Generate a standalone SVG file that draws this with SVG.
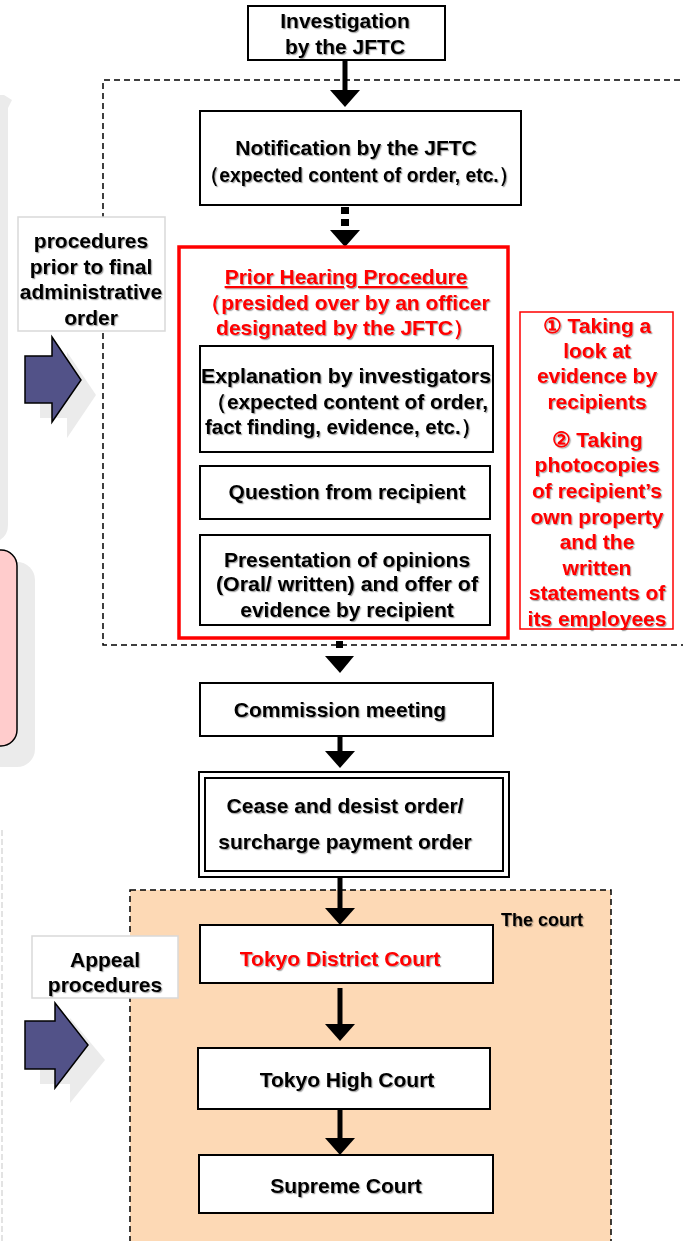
<svg xmlns="http://www.w3.org/2000/svg" width="683" height="1241" viewBox="0 0 683 1241">
<defs>
<filter id="ts" x="-10%" y="-30%" width="120%" height="160%">
<feDropShadow dx="1.2" dy="1.2" stdDeviation="0.6" flood-color="#000" flood-opacity="0.35"/>
</filter>
<marker id="ah" markerWidth="18" markerHeight="30" viewBox="0 0 18 30" refX="0" refY="15" orient="auto" markerUnits="userSpaceOnUse">
<path d="M0,0 L17,15 L0,30 Z" fill="#000"/>
</marker>
</defs>
<style>
text{font-family:"Liberation Sans",Arial,sans-serif;font-weight:bold;font-size:21px;text-anchor:middle;fill:#000}
.r{fill:#ff0000}
.box{fill:#fff;stroke:#000;stroke-width:2}
.lab{fill:#fff;stroke:#d9d9d9;stroke-width:1.5}
.dash{fill:none;stroke:#000;stroke-width:1.5;stroke-dasharray:6,4}
.barrow{fill:#525288;stroke:#000;stroke-width:1.5}
.sh{fill:#ebebeb}
.conn{stroke:#000;stroke-width:5;fill:none}
</style>

<!-- faint background left shapes -->
<g id="bg-left">
<path class="sh" d="M-20,95 L4,95 L12,100 L8,108 L8,525 Q8,535 0,540 L-20,540 Z"/>
<rect class="sh" x="-40" y="562" width="75" height="205" rx="18"/>
<rect x="-40" y="550" width="57" height="196" rx="16" fill="#ffcccc" stroke="#000" stroke-width="1.5"/>
<line x1="2" y1="830" x2="2" y2="1241" stroke="#e3e3e3" stroke-width="2" stroke-dasharray="6,3"/>
</g>

<!-- dashed group containers -->
<g id="prior-area">
<path class="dash" d="M690,80 L103,80 L103,645 L690,645"/>
</g>
<g id="court-area">
<rect x="130" y="890" width="481" height="360" fill="#fdd9b5" stroke="#000" stroke-width="1.5" stroke-dasharray="6,4"/>
<text x="542" y="926" style="font-size:18px" filter="url(#ts)">The court</text>
</g>

<!-- side labels and block arrows -->
<g id="label-prior">
<rect class="lab" x="18" y="217" width="147" height="114"/>
<text x="91" y="248" filter="url(#ts)">procedures</text>
<text x="91" y="274" filter="url(#ts)">prior to final</text>
<text x="91" y="299" filter="url(#ts)">administrative</text>
<text x="91" y="325" filter="url(#ts)">order</text>
</g>
<g id="arrow-prior">
<path class="sh" d="M40,371 L67,371 L67,352 L96,395 L67,438 L67,418 L40,418 Z"/>
<path class="barrow" d="M25,356 L52,356 L52,337 L81,380 L52,422 L52,403 L25,403 Z"/>
</g>
<g id="label-appeal">
<rect class="lab" x="32" y="936" width="146" height="62"/>
<text x="105" y="967" filter="url(#ts)">Appeal</text>
<text x="105" y="992" filter="url(#ts)">procedures</text>
</g>
<g id="arrow-appeal">
<path class="sh" d="M40,1036 L70,1036 L70,1018 L105,1060 L70,1103 L70,1084 L40,1084 Z"/>
<path class="barrow" d="M25,1021 L55,1021 L55,1003 L88,1045 L55,1088 L55,1069 L25,1069 Z"/>
</g>

<!-- connectors -->
<g id="connectors">
<line class="conn" x1="345" y1="60" x2="345" y2="90" marker-end="url(#ah)"/>
<rect x="341" y="207" width="8" height="7" fill="#000"/>
<rect x="341" y="219" width="8" height="7" fill="#000"/>
<path d="M330,230 L360,230 L345,247 Z" fill="#000"/>
<rect x="336" y="641" width="7" height="7" fill="#000"/>
<path d="M325,656 L354,656 L340,673 Z" fill="#000"/>
<line class="conn" x1="340" y1="736" x2="340" y2="751" marker-end="url(#ah)"/>
<line class="conn" x1="340" y1="877" x2="340" y2="908" marker-end="url(#ah)"/>
<line class="conn" x1="340" y1="988" x2="340" y2="1024" marker-end="url(#ah)"/>
<line class="conn" x1="340" y1="1108" x2="340" y2="1138" marker-end="url(#ah)"/>
</g>

<g id="investigation">
<rect class="box" x="248" y="6" width="197" height="54"/>
<text x="345" y="28" filter="url(#ts)">Investigation</text>
<text x="345" y="54" filter="url(#ts)">by the JFTC</text>
</g>

<g id="notification">
<rect class="box" x="200" y="111" width="321" height="94"/>
<text x="356" y="155" filter="url(#ts)">Notification by the JFTC</text>
<text x="359" y="182" filter="url(#ts)" textLength="318" lengthAdjust="spacingAndGlyphs">（expected content of order, etc.）</text>
</g>

<g id="prior-hearing">
<rect x="179" y="247" width="329" height="391" fill="#fff" stroke="#ff0000" stroke-width="3.5"/>
<text class="r" x="346" y="284" filter="url(#ts)" text-decoration="underline">Prior Hearing Procedure</text>
<text class="r" x="345" y="310" filter="url(#ts)">（presided over by an officer</text>
<text class="r" x="345" y="335" filter="url(#ts)">designated by the JFTC）</text>
</g>

<g id="explanation">
<rect class="box" x="200" y="346" width="293" height="106"/>
<text x="346" y="383" filter="url(#ts)" textLength="290" lengthAdjust="spacingAndGlyphs">Explanation by investigators</text>
<text x="347" y="409" filter="url(#ts)" textLength="282" lengthAdjust="spacingAndGlyphs">（expected content of order,</text>
<text x="343" y="434" filter="url(#ts)" textLength="276" lengthAdjust="spacingAndGlyphs">fact finding, evidence, etc.）</text>
</g>

<g id="question">
<rect class="box" x="200" y="466" width="290" height="53"/>
<text x="347" y="499" filter="url(#ts)">Question from recipient</text>
</g>

<g id="presentation">
<rect class="box" x="200" y="535" width="290" height="90"/>
<text x="347" y="567" filter="url(#ts)">Presentation of opinions</text>
<text x="347" y="591" filter="url(#ts)" textLength="262" lengthAdjust="spacingAndGlyphs">(Oral/ written) and offer of</text>
<text x="347" y="617" filter="url(#ts)">evidence by recipient</text>
</g>

<g id="rights-note">
<rect x="520" y="312" width="153" height="317" fill="#fff" stroke="#ff0000" stroke-width="1.5"/>
<text class="r" x="597" y="333" filter="url(#ts)">① Taking a</text>
<text class="r" x="597" y="358" filter="url(#ts)">look at</text>
<text class="r" x="597" y="383" filter="url(#ts)">evidence by</text>
<text class="r" x="597" y="409" filter="url(#ts)">recipients</text>
<text class="r" x="597" y="447" filter="url(#ts)">② Taking</text>
<text class="r" x="597" y="472" filter="url(#ts)">photocopies</text>
<text class="r" x="597" y="498" filter="url(#ts)">of recipient’s</text>
<text class="r" x="597" y="524" filter="url(#ts)">own property</text>
<text class="r" x="597" y="549" filter="url(#ts)">and the</text>
<text class="r" x="597" y="575" filter="url(#ts)">written</text>
<text class="r" x="597" y="600" filter="url(#ts)">statements of</text>
<text class="r" x="597" y="626" filter="url(#ts)">its employees</text>
</g>

<g id="commission">
<rect class="box" x="200" y="683" width="293" height="53"/>
<text x="340" y="717" filter="url(#ts)">Commission meeting</text>
</g>

<g id="order">
<rect x="199" y="772" width="310" height="105" fill="#fff" stroke="#000" stroke-width="2"/>
<rect x="205" y="778" width="298" height="93" fill="none" stroke="#000" stroke-width="2"/>
<text x="345" y="813" filter="url(#ts)">Cease and desist order/</text>
<text x="345" y="849" filter="url(#ts)">surcharge payment order</text>
</g>

<g id="tokyo-district">
<rect class="box" x="200" y="925" width="293" height="58"/>
<text class="r" x="340" y="966" filter="url(#ts)">Tokyo District Court</text>
</g>

<g id="tokyo-high">
<rect class="box" x="198" y="1048" width="292" height="61"/>
<text x="347" y="1087" filter="url(#ts)">Tokyo High Court</text>
</g>

<g id="supreme">
<rect class="box" x="199" y="1155" width="294" height="58"/>
<text x="346" y="1193" filter="url(#ts)">Supreme Court</text>
</g>
</svg>
